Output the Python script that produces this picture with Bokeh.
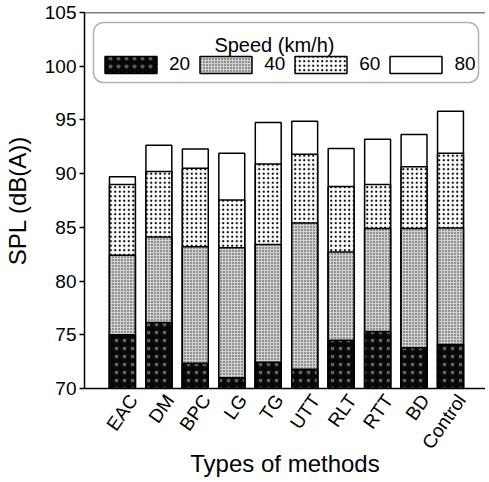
from bokeh.plotting import figure
from bokeh.models import (Range1d, FixedTicker, Legend, LegendItem, Span,
                          BoxAnnotation, Label, ColumnDataSource)
from bokeh.embed import file_html
from bokeh.resources import INLINE

# ---- data ----
methods = ["EAC", "DM", "BPC", "LG", "TG", "UTT", "RLT", "RTT", "BD", "Control"]
spl_20 = [75.0, 76.15, 72.35, 71.0, 72.45, 71.8, 74.5, 75.3, 73.8, 74.1]
spl_40 = [82.4, 84.1, 83.2, 83.1, 83.4, 85.4, 82.7, 84.9, 84.9, 84.95]
spl_60 = [89.0, 90.2, 90.5, 87.55, 90.9, 91.8, 88.8, 89.0, 90.65, 91.9]
spl_80 = [89.7, 92.65, 92.3, 91.9, 94.75, 94.87, 92.35, 93.2, 93.65, 95.8]
speed_labels = ["20", "40", "60", "80"]
y_ticks = [70, 75, 80, 85, 90, 95, 100, 105]
y_min, y_max = 70, 105

FONT = "Liberation Sans"
xpos = list(range(1, len(methods) + 1))
LABEL_SHIFT = 0.3  # visual offset of the rotated category labels (no tick marks drawn)

src = ColumnDataSource(dict(x=xpos, s20=spl_20, s40=spl_40, s60=spl_60, s80=spl_80))

p = figure(frame_width=401, frame_height=376, output_backend="svg", toolbar_location=None,
           x_range=Range1d(-0.04, 10.96), y_range=Range1d(y_min, y_max),
           min_border_left=80, min_border_right=0, min_border_top=12, min_border_bottom=86)
p.outline_line_color = None
p.grid.visible = False
p.background_fill_color = "white"
p.border_fill_color = "white"

styles = {
    "80": dict(fill_color="white"),
    "60": dict(fill_color="white", hatch_pattern="dot", hatch_color="black",
               hatch_scale=4.5, hatch_weight=1.0),
    "40": dict(fill_color="#d0d0d0", hatch_pattern="dot", hatch_color="#303030",
               hatch_scale=3, hatch_weight=1.0),
    "20": dict(fill_color="#080808", hatch_pattern="dot", hatch_color="#5a5a5a",
               hatch_scale=8, hatch_weight=1.0),
}
cols = {"20": "s20", "40": "s40", "60": "s60", "80": "s80"}
rends = {}
for sp in ["80", "60", "40", "20"]:
    rends[sp] = p.vbar(x="x", width=0.71, bottom=y_min, top=cols[sp], source=src,
                       line_color="black", line_width=1.5, **styles[sp])

# axes
p.yaxis.ticker = FixedTicker(ticks=y_ticks)
p.yaxis.minor_tick_line_color = None
p.yaxis.major_tick_out = 5
p.yaxis.major_tick_in = 0
p.yaxis.major_tick_line_width = 1.5
p.yaxis.major_tick_line_color = "black"
p.yaxis.axis_line_width = 1.5
p.yaxis.axis_line_color = "black"
p.yaxis.major_label_standoff = 3
p.yaxis.major_label_text_font = FONT
p.yaxis.major_label_text_font_size = "19px"
p.yaxis.major_label_text_color = "black"
p.yaxis.axis_label = "SPL (dB(A))"
p.yaxis.axis_label_text_font = FONT
p.yaxis.axis_label_text_font_size = "24px"
p.yaxis.axis_label_text_font_style = "normal"
p.yaxis.axis_label_text_color = "black"
p.yaxis.axis_label_standoff = 11

p.xaxis.ticker = FixedTicker(ticks=[x + LABEL_SHIFT for x in xpos])
p.xaxis.major_label_overrides = {x + LABEL_SHIFT: m for x, m in zip(xpos, methods)}
p.xaxis.minor_tick_line_color = None
p.xaxis.major_tick_line_color = None
p.xaxis.major_tick_out = 0
p.xaxis.major_tick_in = 0
p.xaxis.axis_line_width = 1.5
p.xaxis.axis_line_color = "black"
p.xaxis.major_label_orientation = 0.96
p.xaxis.major_label_standoff = 8
p.xaxis.major_label_text_font = FONT
p.xaxis.major_label_text_font_size = "19px"
p.xaxis.major_label_text_color = "black"
p.xaxis.axis_label = "Types of methods"
p.xaxis.axis_label_text_font = FONT
p.xaxis.axis_label_text_font_size = "24px"
p.xaxis.axis_label_text_font_style = "normal"
p.xaxis.axis_label_text_color = "black"
p.xaxis.axis_label_standoff = -12

# top frame line
p.add_layout(Span(location=y_max, dimension="width", line_color="black", line_width=1.5))

# legend box (rounded) and centered title
p.add_layout(BoxAnnotation(left=0.207, right=10.77, top=104.07, bottom=98.48,
                           fill_color="white", fill_alpha=1.0, line_color="black",
                           line_width=1.5, border_radius=10, level="underlay"))
p.add_layout(Label(x=5.17, y=101.93, text="Speed (km/h)", text_align="center",
                   text_baseline="alphabetic", text_font=FONT, text_font_size="20px",
                   text_color="black"))

items = [LegendItem(label=sp, renderers=[rends[sp]]) for sp in speed_labels]
leg = Legend(items=items, orientation="horizontal", location=(14, 313),
             glyph_width=65, glyph_height=21, label_standoff=6, spacing=3,
             padding=0, margin=0, border_line_color=None, background_fill_alpha=0,
             label_text_font=FONT, label_text_font_size="19px", label_text_color="black",
             label_height=21)
p.add_layout(leg, "center")

open("out.html", "w").write(file_html(p, INLINE))
